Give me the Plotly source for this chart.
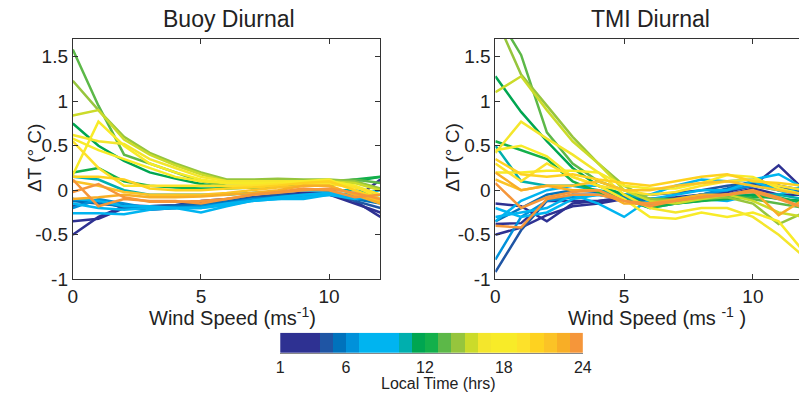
import plotly.graph_objects as go

W, H = 808, 405

wind_speed = list(range(13))
hours = list(range(1, 25))

# 23-step colormap, local time 1..24
cmap = ["#2e3192", "#2e3192", "#2e3192", "#1f55a4", "#0072bc", "#0091da",
        "#00b4f0", "#00b4f0", "#00b4f0", "#00afae", "#00a651", "#13b04b",
        "#5cb848", "#96c53d", "#cbdb2a", "#f4e62c", "#f8eb28", "#f8eb28",
        "#fde12a", "#fed220", "#fbc326", "#f8ae26", "#f5963a"]

buoy = {
    1:  [-0.50, -0.30, -0.18, -0.20, -0.18, -0.15, -0.12, -0.10, -0.08, -0.05, -0.05, -0.12, -0.30],
    2:  [-0.35, -0.32, -0.20, -0.22, -0.20, -0.15, -0.12, -0.10, -0.08, -0.05, -0.05, -0.15, -0.25],
    3:  [-0.10, -0.15, -0.17, -0.18, -0.17, -0.12, -0.10, -0.08, -0.05, -0.03, -0.03, -0.10, 0.12],
    4:  [-0.18, -0.12, -0.20, -0.18, -0.17, -0.15, -0.12, -0.08, -0.05, -0.05, -0.03, -0.12, -0.20],
    5:  [-0.12, -0.15, -0.18, -0.20, -0.18, -0.17, -0.13, -0.10, -0.07, -0.05, -0.04, -0.10, -0.15],
    6:  [-0.20, -0.10, -0.15, -0.20, -0.20, -0.18, -0.15, -0.10, -0.08, -0.06, -0.05, -0.08, -0.12],
    7:  [-0.26, -0.26, -0.27, -0.22, -0.20, -0.25, -0.18, -0.12, -0.10, -0.08, -0.05, -0.10, -0.05],
    8:  [-0.15, -0.20, -0.22, -0.20, -0.20, -0.20, -0.17, -0.12, -0.10, -0.10, -0.05, -0.05, -0.10],
    9:  [-0.10, -0.12, -0.18, -0.18, -0.20, -0.20, -0.15, -0.12, -0.08, -0.05, -0.03, -0.05, 0.00],
    10: [0.15, 0.12, 0.00, -0.05, -0.05, -0.05, -0.05, -0.03, -0.02, 0.00, 0.00, 0.00, -0.05],
    11: [0.75, 0.50, 0.33, 0.20, 0.13, 0.07, 0.03, 0.03, 0.05, 0.05, 0.05, 0.10, 0.15],
    12: [0.20, 0.25, 0.10, 0.05, 0.03, 0.02, 0.02, 0.03, 0.05, 0.05, 0.08, 0.12, 0.15],
    13: [1.58, 0.95, 0.40, 0.30, 0.20, 0.10, 0.05, 0.05, 0.08, 0.08, 0.10, 0.12, 0.08],
    14: [1.23, 0.90, 0.60, 0.42, 0.30, 0.20, 0.12, 0.12, 0.13, 0.12, 0.12, 0.10, 0.02],
    15: [0.84, 0.90, 0.57, 0.40, 0.28, 0.18, 0.10, 0.10, 0.10, 0.10, 0.10, 0.08, 0.00],
    16: [0.62, 0.55, 0.52, 0.35, 0.25, 0.15, 0.10, 0.10, 0.10, 0.10, 0.10, 0.05, -0.05],
    17: [0.58, 0.45, 0.35, 0.25, 0.15, 0.10, 0.08, 0.08, 0.08, 0.10, 0.10, 0.05, -0.10],
    18: [0.17, 0.77, 0.50, 0.30, 0.20, 0.12, 0.08, 0.07, 0.07, 0.10, 0.12, 0.00, -0.15],
    19: [0.55, 0.25, 0.05, 0.05, 0.05, 0.05, 0.05, 0.05, 0.07, 0.07, 0.07, 0.03, -0.05],
    20: [0.15, 0.15, 0.12, 0.02, 0.00, 0.00, 0.02, 0.03, 0.05, 0.08, 0.10, 0.00, -0.10],
    21: [0.10, 0.05, -0.02, -0.05, -0.05, -0.05, -0.03, 0.00, 0.03, 0.05, 0.05, -0.05, -0.12],
    22: [-0.10, -0.08, -0.05, -0.08, -0.08, -0.07, -0.05, -0.03, 0.00, 0.05, 0.05, -0.05, -0.15],
    23: [0.12, -0.18, -0.10, -0.12, -0.12, -0.15, -0.10, -0.05, -0.02, 0.02, 0.00, -0.08, -0.05],
    24: [-0.02, 0.07, -0.08, -0.13, -0.13, -0.12, -0.10, -0.05, -0.03, 0.00, 0.02, -0.03, -0.10],
}

tmi = {
    1:  [-0.15, -0.18, -0.35, -0.15, -0.12, -0.08, -0.10, -0.10, -0.05, -0.02, 0.05, 0.28, 0.00],
    2:  [-0.50, -0.42, -0.28, -0.18, -0.15, -0.10, -0.10, -0.08, -0.05, 0.00, 0.05, 0.05, 0.00],
    3:  [-0.38, -0.37, -0.12, -0.12, -0.12, -0.10, -0.15, -0.10, -0.05, -0.05, 0.02, -0.05, -0.05],
    4:  [-0.92, -0.45, -0.12, -0.05, -0.05, -0.05, -0.05, -0.03, 0.00, 0.05, 0.08, 0.05, -0.05],
    5:  [-0.35, -0.20, -0.05, 0.00, -0.02, -0.08, -0.12, -0.10, -0.05, 0.02, 0.10, 0.00, -0.02],
    6:  [-0.78, -0.30, -0.12, -0.08, -0.05, -0.10, -0.15, -0.10, -0.05, 0.00, 0.05, 0.00, -0.05],
    7:  [-0.35, -0.12, 0.00, 0.05, 0.05, -0.05, -0.05, 0.05, 0.12, 0.10, 0.12, 0.18, 0.02],
    8:  [-0.30, -0.25, -0.20, -0.05, -0.15, -0.30, -0.10, -0.05, 0.00, 0.00, 0.10, 0.00, -0.05],
    9:  [-0.20, -0.30, -0.25, -0.10, -0.05, -0.10, -0.20, -0.15, -0.10, -0.12, -0.05, -0.05, 0.05],
    10: [0.50, 0.10, 0.05, 0.05, 0.00, -0.05, -0.10, -0.12, -0.10, -0.05, -0.05, -0.05, -0.10],
    11: [1.28, 0.88, 0.55, 0.25, 0.05, -0.05, -0.18, -0.15, -0.12, -0.08, -0.05, -0.10, -0.12],
    12: [0.55, 0.45, 0.35, 0.10, -0.02, -0.10, -0.20, -0.15, -0.12, -0.10, -0.08, -0.08, -0.15],
    13: [2.00, 1.52, 0.65, 0.30, 0.10, 0.00, -0.10, -0.10, -0.08, -0.05, -0.10, -0.15, -0.20],
    14: [1.95, 1.30, 0.95, 0.60, 0.30, 0.05, -0.10, -0.12, -0.10, -0.08, -0.15, -0.38, -0.25],
    15: [1.10, 1.28, 0.90, 0.55, 0.30, 0.00, -0.12, -0.15, -0.10, -0.05, -0.12, -0.25, -0.30],
    16: [0.42, 0.77, 0.58, 0.40, 0.20, -0.05, -0.20, -0.25, -0.20, -0.20, -0.30, -0.50, -0.75],
    17: [0.45, 0.50, 0.38, 0.15, 0.05, -0.10, -0.30, -0.32, -0.25, -0.30, -0.25, -0.35, -0.70],
    18: [0.20, 0.20, 0.22, 0.22, 0.20, 0.05, 0.02, 0.02, 0.08, 0.17, 0.15, 0.02, -0.05],
    19: [0.30, 0.10, 0.30, 0.15, 0.05, 0.00, -0.05, -0.02, 0.05, 0.10, 0.12, 0.05, 0.00],
    20: [0.35, 0.18, 0.15, 0.18, 0.12, 0.08, 0.05, 0.10, 0.15, 0.18, 0.10, 0.08, 0.05],
    21: [0.12, 0.00, 0.05, 0.05, 0.10, 0.00, 0.00, 0.05, 0.08, 0.10, 0.05, 0.00, -0.05],
    22: [0.20, 0.00, 0.05, 0.00, 0.00, -0.15, -0.15, -0.10, -0.05, -0.05, 0.00, -0.28, -0.10],
    23: [0.08, -0.20, -0.08, -0.02, 0.00, -0.12, -0.18, -0.12, -0.08, -0.05, -0.02, -0.10, -0.20],
    24: [-0.40, -0.42, -0.10, -0.05, -0.05, -0.12, -0.15, -0.12, -0.08, -0.05, 0.00, -0.08, -0.20],
}

y_tickvals = [-1, -0.5, 0, 0.5, 1, 1.5]
y_ticktext = ["-1", "-0.5", "0", "0.5", "1", "1.5"]
x_tickvals = [0, 5, 10]
cb_tickvals = [1, 6, 12, 18, 24]

FONT = "Liberation Sans, Arial, Helvetica, sans-serif"
AX = "#333333"


def px(x):
    return x / W


def py(y):
    return 1 - y / H


fig = go.Figure()

for h in hours:
    c = cmap[min(h - 1, len(cmap) - 1)]
    fig.add_trace(go.Scatter(x=wind_speed, y=buoy[h], mode="lines",
                             line=dict(color=c, width=2.5), xaxis="x", yaxis="y",
                             showlegend=False, name=f"{h} h"))
for h in hours:
    c = cmap[min(h - 1, len(cmap) - 1)]
    fig.add_trace(go.Scatter(x=wind_speed, y=tmi[h], mode="lines",
                             line=dict(color=c, width=2.5), xaxis="x2", yaxis="y2",
                             showlegend=False, name=f"{h} h"))

# discrete colour bar
n = len(cmap)
cscale = []
for i, c in enumerate(cmap):
    cscale.append([i / n, c])
    cscale.append([(i + 1) / n, c])
fig.add_trace(go.Heatmap(z=[[i + 0.5 for i in range(n)]],
                         x=[1.5 + i for i in range(n)], y=[0],
                         zmin=0, zmax=n, colorscale=cscale, showscale=False,
                         xaxis="x3", yaxis="y3", hoverinfo="skip"))

common_x = dict(ticks="inside", ticklen=5, tickcolor=AX, showline=True, linecolor=AX,
                linewidth=1, mirror="ticks", showgrid=False, zeroline=False,
                tickvals=x_tickvals, ticklabelstandoff=0,
                tickfont=dict(size=19, color="#222"))
common_y = dict(ticks="inside", ticklen=5, tickcolor=AX, showline=True, linecolor=AX,
                linewidth=1, showgrid=False, zeroline=False, range=[-1, 1.7],
                tickvals=y_tickvals, ticktext=y_ticktext,
                tickfont=dict(size=19, color="#222"))

fig.update_layout(
    width=W, height=H, margin=dict(l=0, r=0, t=0, b=0),
    paper_bgcolor="white", plot_bgcolor="white",
    font=dict(family=FONT, color="#222"),
    xaxis=dict(domain=[px(69), px(382)], range=[0, 12], anchor="y", **common_x),
    yaxis=dict(domain=[py(287), py(40)], anchor="x", mirror="ticks", **common_y),
    xaxis2=dict(domain=[px(499), 1.0], range=[0, 11.79], anchor="y2", **common_x),
    yaxis2=dict(domain=[py(287), py(40)], anchor="x2", mirror=False, **common_y),
    xaxis3=dict(domain=[px(280), px(588)], range=[1, 24], anchor="y3",
                tickvals=cb_tickvals, ticks="", showgrid=False, zeroline=False,
                showline=True, linecolor="#888", linewidth=1, ticklabelstandoff=0,
                tickfont=dict(size=16, color="#222")),
    yaxis3=dict(domain=[py(363), py(342)], anchor="x3", visible=False, range=[-0.5, 0.5]),
)

ann = [
    dict(text="Buoy Diurnal", x=px(228), y=py(20), size=23, angle=0),
    dict(text="TMI Diurnal", x=px(657), y=py(20), size=23, angle=0),
    dict(text="Wind Speed (ms<sup>-1</sup>)", x=px(232), y=py(325), size=20, angle=0),
    dict(text="Wind Speed (ms <sup>-1</sup> )", x=px(664), y=py(325), size=20, angle=0),
    dict(text="ΔT (° C)", x=px(30), y=py(162), size=19, angle=-90),
    dict(text="ΔT (° C)", x=px(456), y=py(162), size=19, angle=-90),
    dict(text="Local Time (hrs)", x=px(441), y=py(394), size=16, angle=0),
]
for a in ann:
    fig.add_annotation(text=a["text"], x=a["x"], y=a["y"], xref="paper", yref="paper",
                       xanchor="center", yanchor="middle", showarrow=False,
                       textangle=a["angle"], font=dict(size=a["size"], color="#222", family=FONT))

fig.write_html(
    "out.html",
    config={"displayModeBar": False},
    post_script=("document.documentElement.style.margin='0';"
                 "document.body.style.margin='0';"
                 "document.body.style.overflow='hidden';"),
)
